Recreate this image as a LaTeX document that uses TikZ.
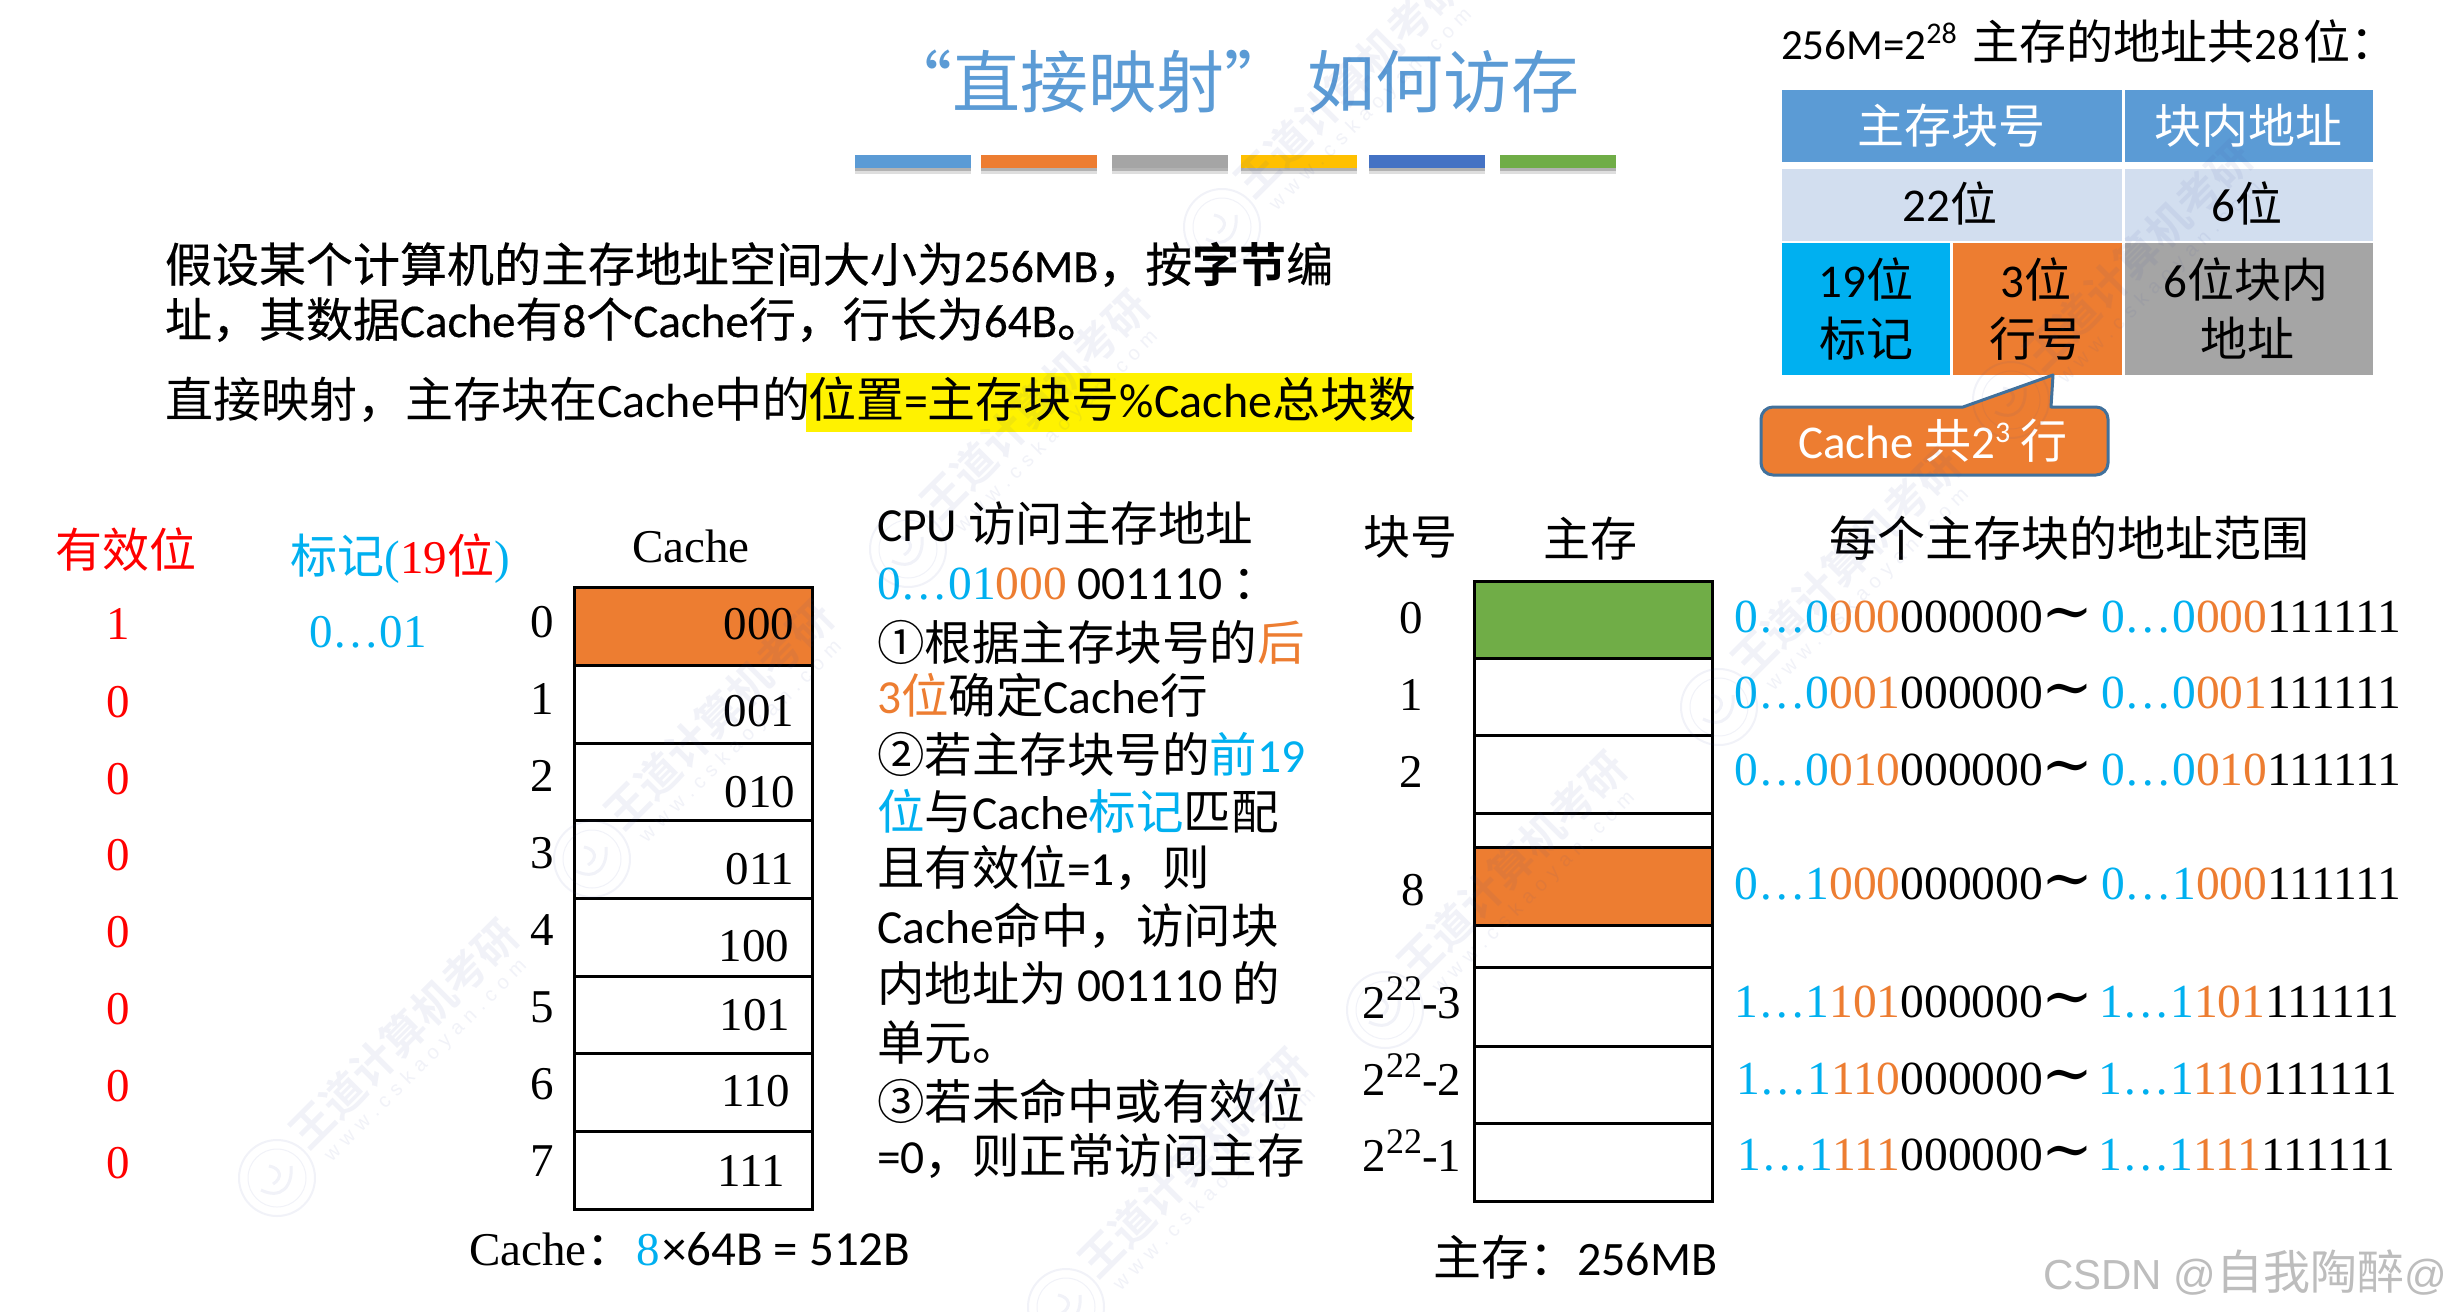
\documentclass[tikz,border=0pt]{standalone}
\usepackage{fontspec}
\setmainfont{Liberation Serif}
\newfontfamily\cjkf{Noto Sans CJK SC}
\newfontfamily\cjkbf[FakeBold=0.35]{Noto Sans CJK SC}
\newfontfamily\cjkB{Noto Sans CJK SC Bold}
\newfontfamily\calf{Carlito}
\newfontfamily\calbf[FakeBold=0.35]{Carlito}
\newfontfamily\sansf{Liberation Sans}
\newfontfamily\djf{DejaVu Serif}
\definecolor{cy}{HTML}{00B0F0}
\definecolor{og}{HTML}{ED7D31}
\definecolor{hd}{HTML}{5B9BD5}
\definecolor{lt}{HTML}{D2DEEF}
\definecolor{gy}{HTML}{A5A5A5}
\definecolor{gr}{HTML}{70AD47}
\definecolor{ye}{HTML}{FFC000}
\definecolor{bl}{HTML}{4472C4}
\definecolor{calline}{HTML}{41719C}
\definecolor{wmc}{HTML}{3F4FA0}
\definecolor{csdn}{HTML}{BDBDBD}
\newcommand{\fs}[1]{\fontsize{#1}{#1}\selectfont}
\newcommand{\cj}[1]{{\cjkf #1}}
\newcommand{\cb}[1]{{\cjkbf #1}}
\newcommand{\ca}[1]{{\calf #1}}
\newcommand{\clb}[1]{{\calbf #1}}
\newcommand{\tcy}[1]{\textcolor{cy}{#1}}
\newcommand{\tog}[1]{\textcolor{og}{#1}}
\newcommand{\rng}[3]{\tcy{#1}\tog{#2}#3}
\newcommand{\wm}[2]{%
  \begin{scope}[shift={(#1,#2)},opacity=.07,draw=wmc,text=wmc]
    \draw[line width=2pt] (0,0) circle [radius=38];
    \draw[line width=1pt] (0,0) circle [radius=29];
    \draw[line width=3pt] (-16,12) .. controls (4,22) and (16,8) .. (14,-12);
    \draw[line width=3pt] (-8,-12) .. controls (4,-10) and (6,0) .. (-4,6);
    \node[rotate=45,anchor=west,inner sep=0pt,font=\fs{43}\cjkB] at (20,-38) {王道计算机考研};
    \node[rotate=45,anchor=west,inner sep=0pt,font=\fs{20}\sansf] at (51,-19) {w\,\,w\,\,w\,\,.\,\,c\,\,s\,\,k\,\,a\,\,o\,\,y\,\,a\,\,n\,\,.\,\,c\,\,o\,\,m};
  \end{scope}}
\tikzset{
  t/.style={inner sep=0pt,outer sep=0pt,text height=40pt,text depth=6pt,font=\fs{47}},
  tl/.style={t,anchor=west},
  tr/.style={t,anchor=east},
  sr/.style={text height=37pt},
  mid/.style={tl,font=\fs{47.5}},
  big/.style={font=\fs{48}},
  cellline/.style={draw=black,line width=3pt},
}
\begin{document}
\begin{tikzpicture}[x=1pt,y=-1pt]
\useasboundingbox (0,0) rectangle (2450,1312);
\fill[white] (0,0) rectangle (2450,1312);

% title
\node[t,text height=58pt,text depth=8pt,font=\fs{68},text=hd] (title) at (1232,82) {\cj{“直接映射” 如何访存}};
% colour bars
\foreach \a/\b/\c in {855/971/hd,981/1097/og,1112/1228/gy,1241/1357/ye,1369/1485/bl,1500/1616/gr}{
  \fill[black!30] (\a,168) rectangle (\b,171);
  \fill[black!13] (\a,171) rectangle (\b,174);
  \fill[\c] (\a,155) rectangle (\b,168);
}

% intro text
\fill[yellow] (806,373) rectangle (1412,432);
\node[tl] (p1) at (165,265) {\cb{假设某个计算机的主存地址空间大小为}\clb{\fs{46}256MB}\cb{，按}{\cjkB 字节}\cb{编}};
\node[tl] (p2) at (165,320) {\cb{址，其数据}\clb{Cache}\cb{有}\clb{8}\cb{个}\clb{Cache}\cb{行，行长为}\clb{\fs{47}64B}\cb{。}};
\node[tl,big] (p3) at (165,400) {\cj{直接映射，主存块在}\ca{Cache}\cj{中的}};
\node[tl,big] (p3b) at (808,400) {\cj{位置}\ca{=}\cj{主存块号}\ca{\%Cache}\cj{总块数}};

% address format, top right
\node[tl] (ah) at (1781,42) {\ca{\fs{43}256M=2\raisebox{16pt}{\fs{30}28}}\hspace{5pt}\cj{ 主存的地址共}\ca{\fs{45}28}\hspace{4pt}\cj{位：}};
\fill[hd] (1782,90) rectangle (2122,162);
\fill[hd] (2125,90) rectangle (2373,162);
\fill[lt] (1782,169) rectangle (2122,241);
\fill[lt] (2125,169) rectangle (2373,241);
\fill[cy] (1782,243) rectangle (1950,375);
\fill[og] (1953,243) rectangle (2122,375);
\fill[gy] (2125,243) rectangle (2373,375);
\node[t,text=white] (a1) at (1951,126) {\cj{主存块号}};
\node[t,text=white] (a2) at (2248,126) {\cj{块内地址}};
\node[t] (b1) at (1950,204) {\ca{22}\cj{位}};
\node[t] (b2) at (2247,204) {\ca{6}\cj{位}};
\node[t] (c1) at (1866,280) {\ca{19}\cj{位}};
\node[t] (c2) at (1866,339) {\cj{标记}};
\node[t] (d1) at (2036,280) {\ca{3}\cj{位}};
\node[t] (d2) at (2036,339) {\cj{行号}};
\node[t] (e1) at (2246,280) {\ca{6}\cj{位块内}};
\node[t] (e2) at (2247,339) {\cj{地址}};
% callout
\draw[fill=og,draw=calline,line width=3pt,line join=round]
  (1963,407) -- (2053,375) -- (2051,407) [rounded corners=12pt] -- (2108,407) -- (2108,475) -- (1761,475) -- (1761,407) [sharp corners] -- cycle;
\node[t,text=white] (co) at (1933,441) {\ca{Cache }\cj{共}\ca{2\raisebox{16pt}{\fs{30}3}}\cj{ 行}};

% valid bit and tag
\node[t,text=red] (vh) at (126,550) {\cj{有效位}};
\foreach \y/\v [count=\i] in {624/1,702/0,779/0,855/0,932/0,1009/0,1086/0,1163/0}
  \node[t,sr,text=red] (v\i) at (118,\y) {\v};
\node[t] (th) at (400,556) {\tcy{\cj{标记}(}\textcolor{red}{19\cj{位}}\tcy{)}};
\node[t,sr,text=cy] (tv) at (368,632) {0…01};

% cache
\node[t,sr] (ch) at (691,547) {Cache};
\fill[og] (574,587) rectangle (812,665);
\foreach \y in {665,743,820,898,976,1053,1131}
  \draw[cellline] (574,\y) -- (812,\y);
\draw[cellline] (574,587) rectangle (812,1209);
\foreach \y [count=\i from 0] in {622,699,776,853,930,1007,1084,1161}
  \node[t,sr] (ci\i) at (542,\y) {\i};
\foreach \x/\y/\l in {759/624/000,759/711/001,760/792/010,760/869/011,754/946/100,755/1015/101,756/1091/110,751/1171/111}
  \node[t,sr] (cl\l) at (\x,\y) {\l};
\node[tl] (cs) at (469,1248) {Cache\cj{：}};
\node[tl,text=cy] (cs8) at (636,1248) {8};
\node[tl,font=\fs{49}] (cs2) at (662,1248) {\ca{×64B = 512B}};

% CPU text
\node[mid] (m1) at (877,524) {\ca{CPU }\cj{访问主存地址}};
\node[mid] (m2) at (877,582) {\tcy{0…01}\tog{000}\ca{ 001110 }\cj{：}};
\node[mid] (m3) at (877,643) {\cj{①根据主存块号的}\tog{\cj{后}}};
\node[mid] (m4) at (877,696) {\tog{\ca{3}\cj{位}}\cj{确定}\ca{Cache}\cj{行}};
\node[mid] (m5) at (877,755) {\cj{②若主存块号的}\tcy{\cj{前}\ca{19}}};
\node[mid] (m6) at (877,812) {\tcy{\cj{位}}\cj{与}\ca{Cache}\tcy{\cj{标记}}\cj{匹配}};
\node[mid] (m7) at (877,868) {\cj{且有效位}\ca{=1}\cj{，则}};
\node[mid] (m8) at (877,926) {\ca{Cache}\cj{命中，访问块}};
\node[mid] (m9) at (877,984) {\cj{内地址为}\ca{ 001110 }\cj{的}};
\node[mid] (m10) at (877,1043) {\cj{单元。}};
\node[mid] (m11) at (877,1102) {\cj{③若未命中或有效位}};
\node[mid] (m12) at (877,1156) {\ca{=0}\cj{，则正常访问主存}};

% main memory
\node[t] (kh) at (1410,537) {\cj{块号}};
\node[t] (mh) at (1590,539) {\cj{主存}};
\fill[gr] (1474,581) rectangle (1712,658);
\fill[og] (1474,847) rectangle (1712,925);
\foreach \y in {658,735,813,847,925,967,1046,1123}
  \draw[cellline] (1474,\y) -- (1712,\y);
\draw[cellline] (1474,581) rectangle (1712,1201);
\node[t,sr] (k0) at (1411,618) {0};
\node[t,sr] (k1) at (1411,695) {1};
\node[t,sr] (k2) at (1411,772) {2};
\node[t,sr] (k8) at (1413,890) {8};
\node[t,sr] (k3) at (1412,1003) {2\raisebox{18pt}{\fs{36}22}-3};
\node[t,sr] (k4) at (1412,1080) {2\raisebox{18pt}{\fs{36}22}-2};
\node[t,sr] (k5) at (1412,1156) {2\raisebox{18pt}{\fs{36}22}-1};
\node[tl,big] (ms) at (1433,1258) {\cj{主存：}\ca{256MB}};

% address ranges
\node[t,big] (rh) at (2069,539) {\cj{每个主存块的地址范围}};
\foreach \y/\p/\q/\e [count=\i] in {617/0…0/000/2401,693/0…0/001/2401,770/0…0/010/2401,884/0…1/000/2401,1002/1…1/101/2399,1079/1…1/110/2397,1155/1…1/111/2395}{
  \node[tr,sr,font=\fs{47.5}] (ra\i) at (2043,\y) {\rng{\p}{\q}{000000}};
  \node[t,sr] (rt\i) at (2067,\y) {{\djf\fs{62}∼}};
  \node[tr,sr,font=\fs{47.5}] (rb\i) at (\e,\y) {\rng{\p}{\q}{111111}};
}

% CSDN mark
\node[tr,text=csdn] (csdn) at (2447,1272) {\sansf\fs{42}CSDN @\cjkf\fs{47}自我陶醉\sansf\fs{42}@};

% faint watermark
\wm{277}{1178}\wm{592}{859}\wm{908}{549}\wm{1222}{227}
\wm{1066}{1307}\wm{1385}{1010}\wm{1719}{707}\wm{2011}{400}
\end{tikzpicture}
\end{document}
